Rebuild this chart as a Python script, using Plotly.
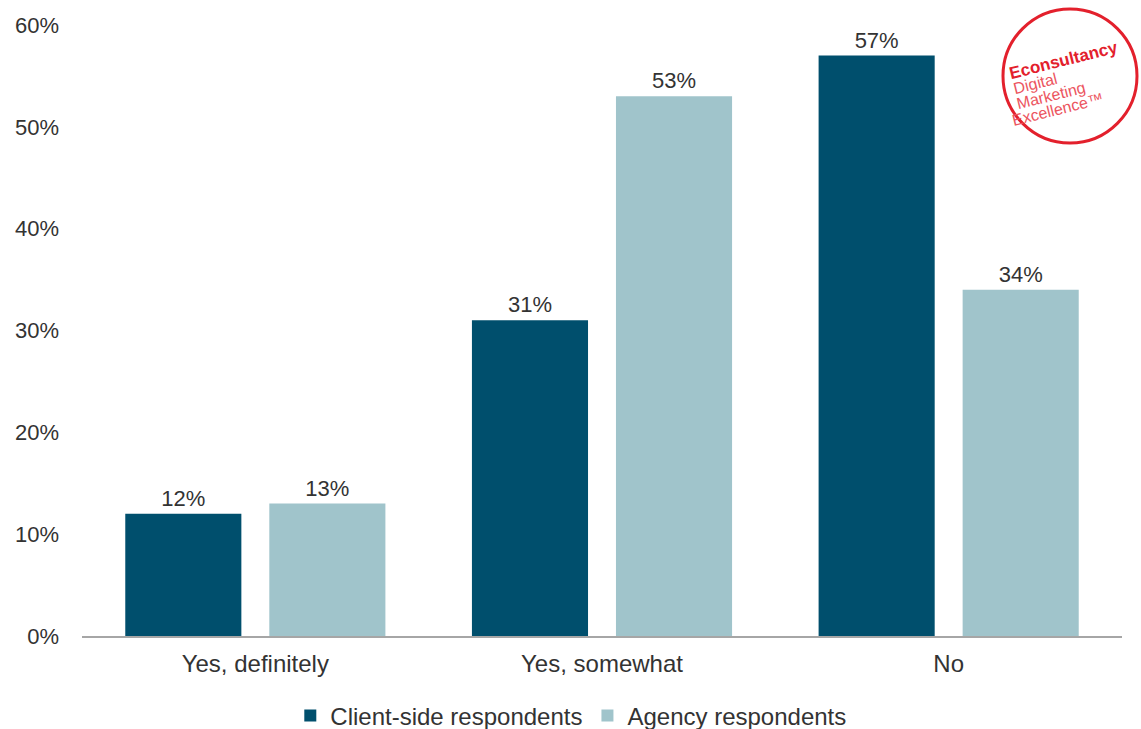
import plotly.graph_objects as go

categories = ["Yes, definitely", "Yes, somewhat", "No"]
client_side = [12, 31, 57]
agency = [13, 53, 34]
series_names = ["Client-side respondents", "Agency respondents"]
y_ticks = [0, 10, 20, 30, 40, 50, 60]
y_tick_text = ["0%", "10%", "20%", "30%", "40%", "50%", "60%"]

DARK = "#004f6d"
LIGHT = "#a0c4cb"
TEXT = "#333333"
LOGO_RED = "#e3202c"
LOGO_PINK = "#ec5560"
FONT = "Liberation Sans, Arial, sans-serif"

# plot-area geometry (pixels) used to place the logo in paper coordinates
L, R, T, B = 82, 19, 25, 93
W, H = 1141, 729
PW, PH = W - L - R, H - T - B


def px(x):
    return (x - L) / PW


def py(y):
    return (H - B - y) / PH


fig = go.Figure()
fig.add_trace(go.Bar(
    x=categories, y=client_side, name=series_names[0],
    marker=dict(color=DARK, line=dict(width=10, color="rgba(0,0,0,0)")),
    texttemplate="%{y:.0f}%", textposition="outside",
    textfont=dict(size=22, color=TEXT, family=FONT), cliponaxis=False,
))
fig.add_trace(go.Bar(
    x=categories, y=agency, name=series_names[1],
    marker=dict(color=LIGHT, line=dict(width=10, color="rgba(0,0,0,0)")),
    texttemplate="%{y:.0f}%", textposition="outside",
    textfont=dict(size=22, color=TEXT, family=FONT), cliponaxis=False,
))

fig.update_layout(
    width=W, height=H,
    margin=dict(l=L, r=R, t=T, b=B, autoexpand=False),
    paper_bgcolor="white", plot_bgcolor="white",
    font=dict(family=FONT, size=22, color=TEXT),
    barmode="group", bargap=0.169, bargroupgap=0.194,
    showlegend=True,
    legend=dict(orientation="h", x=0.47, xanchor="center", y=py(716), yanchor="middle",
                font=dict(size=24, color=TEXT), itemwidth=30, tracegroupgap=0),
    xaxis=dict(showline=True, linecolor="#a6a6a6", linewidth=1.5, ticks="",
               showgrid=False, tickfont=dict(size=24, color=TEXT), ticklabelstandoff=5),
    yaxis=dict(range=[0, 60], tickmode="array", tickvals=y_ticks, ticktext=y_tick_text,
               showgrid=False, zeroline=False, showline=False, ticks="",
               tickfont=dict(size=22, color=TEXT), ticklabelstandoff=22),
)

# Econsultancy logo (circle stamp)
fig.add_shape(type="circle", xref="paper", yref="paper",
              x0=px(1003), x1=px(1137), y0=py(143), y1=py(9),
              line=dict(color=LOGO_RED, width=3), fillcolor="rgba(0,0,0,0)")
fig.add_annotation(xref="paper", yref="paper", x=px(1063), y=py(60),
                   xanchor="center", yanchor="middle",
                   text="<b>Econsultancy</b>", showarrow=False, textangle=-14,
                   font=dict(size=17, color=LOGO_RED, family=FONT))
for label, cx, cy in [("Digital", 1035, 83), ("Marketing", 1051, 96), ("Excellence™", 1057, 109)]:
    fig.add_annotation(xref="paper", yref="paper", x=px(cx), y=py(cy),
                       xanchor="center", yanchor="middle",
                       text=label, showarrow=False, textangle=-14,
                       font=dict(size=16, color=LOGO_PINK, family=FONT))

fig.write_html("out.html", config={"displayModeBar": False},
               post_script="document.body.style.margin='0px';")
